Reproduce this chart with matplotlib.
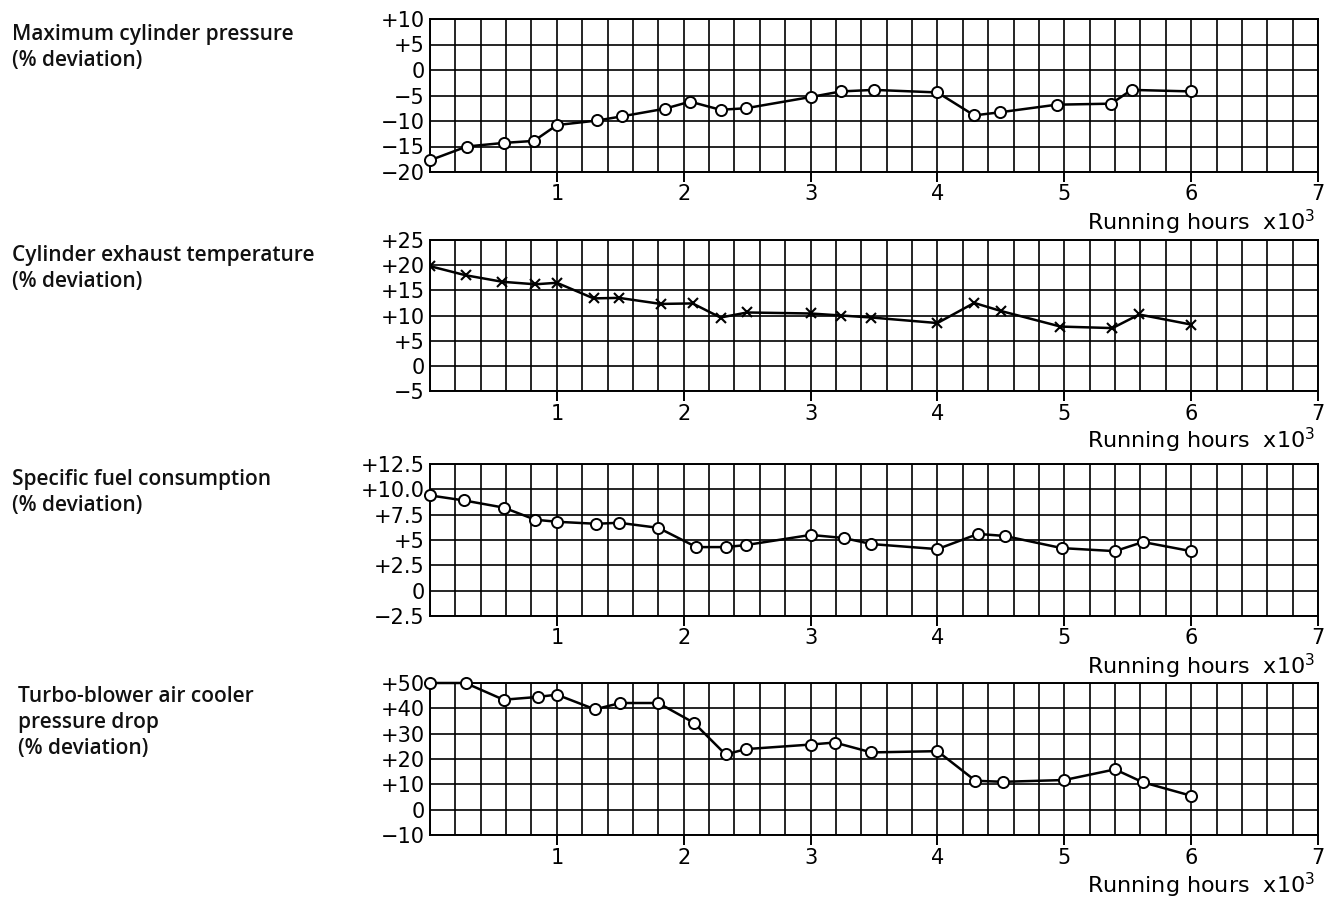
import matplotlib
matplotlib.use("Agg")
import matplotlib.pyplot as plt
import numpy as np

plt.rcParams['mathtext.default'] = 'regular'

# running hours (x10^3) and % deviation
pmax_hours = [0.0, 0.29, 0.58, 0.82, 1.0, 1.32, 1.51, 1.85, 2.05, 2.29, 2.49, 3.0, 3.24, 3.5, 4.0, 4.29, 4.49, 4.94, 5.37, 5.53, 6.0]
pmax_dev = [-17.7, -15.0, -14.3, -13.9, -10.8, -9.9, -9.1, -7.6, -6.2, -7.8, -7.5, -5.3, -4.2, -3.9, -4.4, -8.9, -8.3, -6.8, -6.6, -3.9, -4.2]

texh_hours = [0.0, 0.28, 0.57, 0.83, 1.0, 1.29, 1.49, 1.82, 2.07, 2.29, 2.5, 3.0, 3.24, 3.48, 4.0, 4.29, 4.5, 4.97, 5.38, 5.59, 6.0]
texh_dev = [19.8, 18.0, 16.7, 16.2, 16.5, 13.4, 13.5, 12.3, 12.4, 9.6, 10.6, 10.4, 10.0, 9.6, 8.5, 12.5, 10.9, 7.8, 7.5, 10.2, 8.2]

sfc_hours = [0.0, 0.27, 0.58, 0.83, 1.0, 1.31, 1.49, 1.8, 2.1, 2.33, 2.49, 3.0, 3.26, 3.48, 4.0, 4.32, 4.53, 4.98, 5.4, 5.62, 6.0]
sfc_dev = [9.4, 8.9, 8.2, 7.0, 6.8, 6.6, 6.7, 6.2, 4.3, 4.3, 4.5, 5.5, 5.2, 4.6, 4.1, 5.6, 5.4, 4.2, 3.9, 4.8, 3.9]

tb_hours = [0.0, 0.28, 0.58, 0.85, 1.0, 1.3, 1.5, 1.8, 2.08, 2.33, 2.49, 3.0, 3.19, 3.48, 4.0, 4.3, 4.52, 5.0, 5.4, 5.62, 6.0]
tb_dev = [50.0, 50.0, 43.4, 44.5, 45.4, 39.6, 42.1, 42.1, 34.3, 21.8, 23.9, 25.7, 26.5, 22.6, 23.1, 11.4, 11.0, 11.7, 15.9, 10.8, 5.5]

titles = ["Maximum cylinder pressure\n(% deviation)",
          "Cylinder exhaust temperature\n(% deviation)",
          "Specific fuel consumption\n(% deviation)",
          "Turbo-blower air cooler\npressure drop\n(% deviation)"]

pmax_ticks = [-20, -15, -10, -5, 0, 5, 10]
pmax_labels = ["\u221220", "\u221215", "\u221210", "\u22125", "0", "+5", "+10"]
texh_ticks = [-5, 0, 5, 10, 15, 20, 25]
texh_labels = ["\u22125", "0", "+5", "+10", "+15", "+20", "+25"]
sfc_ticks = [-2.5, 0, 2.5, 5, 7.5, 10, 12.5]
sfc_labels = ["\u22122.5", "0", "+2.5", "+5", "+7.5", "+10.0", "+12.5"]
tb_ticks = [-10, 0, 10, 20, 30, 40, 50]
tb_labels = ["\u221210", "0", "+10", "+20", "+30", "+40", "+50"]

panels = [
    (pmax_hours, pmax_dev, pmax_ticks, pmax_labels, 'o'),
    (texh_hours, texh_dev, texh_ticks, texh_labels, 'x'),
    (sfc_hours, sfc_dev, sfc_ticks, sfc_labels, 'o'),
    (tb_hours, tb_dev, tb_ticks, tb_labels, 'o'),
]

W, H = 1330, 901
fig = plt.figure(figsize=(W/100, H/100), dpi=100)

# axes boxes in pixels: top, bottom
boxes = [(19, 172), (240, 391), (464, 616), (683, 835)]
title_y = [24, 245, 469, 686]
title_x = [12, 12, 12, 18]
x0, x1 = 430, 1318

for i in range(4):
    hrs, dev, yt, ylab, mk = panels[i]
    top, bot = boxes[i]
    ax = fig.add_axes([x0/W, 1-bot/H, (x1-x0)/W, (bot-top)/H])
    ax.set_xlim(0, 7)
    ax.set_ylim(yt[0], yt[-1])
    ax.set_xticks(range(1, 8))
    ax.set_xticks(np.arange(0, 7.01, 0.2), minor=True)
    ax.set_yticks(yt)
    ax.set_yticklabels(ylab, fontsize=15, family="DejaVu Sans")
    ax.set_xticklabels([str(k) for k in range(1, 8)], fontsize=15, family="DejaVu Sans")
    ax.tick_params(axis='x', which='major', length=7, width=1.4, direction='out', pad=2)
    ax.tick_params(axis='x', which='minor', length=0)
    ax.tick_params(axis='y', length=0, pad=4)
    ax.grid(True, which='both', color='black', lw=1.2)
    ax.set_axisbelow(True)
    for s in ax.spines.values():
        s.set_linewidth(1.4)
    if mk == 'x':
        ax.plot(hrs, dev, color='black', lw=1.8, marker='x', ms=7, mew=1.5, zorder=3)
    else:
        ax.plot(hrs, dev, color='black', lw=1.8, marker='o', ms=8, mew=1.4,
                mfc='white', mec='black', zorder=3, clip_on=False)
    ax.text(0.997, -0.33, "Running hours  x10$^3$", transform=ax.transAxes,
            ha='right', va='center', fontsize=16, family="DejaVu Sans")
    fig.text(title_x[i]/W, 1-title_y[i]/H, titles[i], ha='left', va='top',
             fontsize=15, family="Open Sans", weight='semibold',
             linespacing=1.3, color='#111111')

fig.savefig("out.png", dpi=100, facecolor='white')
